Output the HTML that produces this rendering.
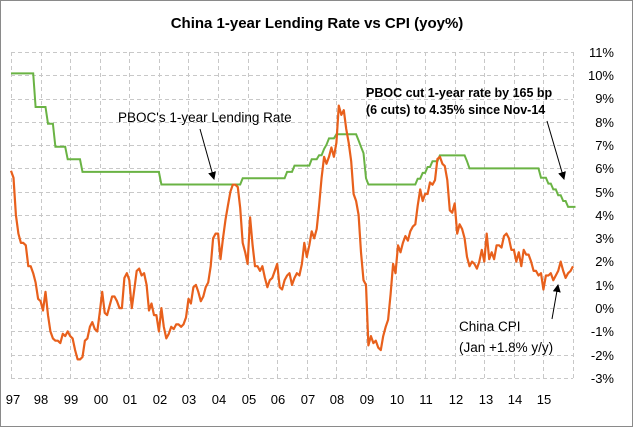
<!DOCTYPE html>
<html><head><meta charset="utf-8"><style>
body{margin:0;background:#fff}
#c{position:relative;width:633px;height:427px;box-sizing:border-box;border:1px solid #8a8a8a;font-family:"Liberation Sans",sans-serif;overflow:hidden}
svg{position:absolute;left:0;top:0}
</style></head><body><div id="c">
<svg width="633" height="427" xmlns="http://www.w3.org/2000/svg" font-family="Liberation Sans, sans-serif">
<text x="316" y="27" text-anchor="middle" font-size="15" font-weight="bold" fill="#000">China 1-year Lending Rate vs CPI (yoy%)</text>
<g id="grid" stroke="#c8c8c8" stroke-width="1" stroke-dasharray="4,3" fill="none"></g>
<g font-size="13" fill="#000" text-anchor="end">
<text x="613" y="56">11%</text><text x="613" y="79">10%</text><text x="613" y="102">9%</text><text x="613" y="126">8%</text><text x="613" y="149">7%</text><text x="613" y="172">6%</text><text x="613" y="196">5%</text><text x="613" y="219">4%</text><text x="613" y="242">3%</text><text x="613" y="265">2%</text><text x="613" y="289">1%</text><text x="613" y="312">0%</text><text x="613" y="335">-1%</text><text x="613" y="359">-2%</text><text x="613" y="382">-3%</text>
</g>
<g font-size="13" fill="#000" text-anchor="middle">
<text x="12" y="403">97</text><text x="40" y="403">98</text><text x="70" y="403">99</text><text x="100" y="403">00</text><text x="129" y="403">01</text><text x="159" y="403">02</text><text x="188" y="403">03</text><text x="218" y="403">04</text><text x="248" y="403">05</text><text x="277" y="403">06</text><text x="307" y="403">07</text><text x="336" y="403">08</text><text x="366" y="403">09</text><text x="396" y="403">10</text><text x="425" y="403">11</text><text x="455" y="403">12</text><text x="485" y="403">13</text><text x="514" y="403">14</text><text x="543" y="403">15</text>
</g>
<polyline id="g" fill="none" stroke="#6ab344" stroke-width="2"/>
<polyline id="o" fill="none" stroke="#e8601c" stroke-width="2.2" stroke-linejoin="round"/>
<text x="117" y="121" font-size="13.5" fill="#000">PBOC's 1-year Lending Rate</text>
<text x="365" y="96" font-size="12.5" font-weight="bold" fill="#000">PBOC cut 1-year rate by 165 bp</text>
<text x="365" y="113" font-size="12.5" font-weight="bold" fill="#000">(6 cuts) to 4.35%  since Nov-14</text>
<text x="458" y="330" font-size="13.5" fill="#000">China CPI</text>
<text x="458" y="351" font-size="13.5" fill="#000">(Jan +1.8% y/y)</text>
<defs><marker id="a" markerWidth="8" markerHeight="8" refX="7" refY="4" orient="auto" markerUnits="userSpaceOnUse"><path d="M0,0 L8,4 L0,8 z" fill="#000"/></marker></defs>
<line x1="199" y1="128" x2="213" y2="178" stroke="#000" stroke-width="1" marker-end="url(#a)"/>
<line x1="546" y1="120" x2="563" y2="178" stroke="#000" stroke-width="1" marker-end="url(#a)"/>
<line x1="551" y1="318" x2="557" y2="284" stroke="#000" stroke-width="1" marker-end="url(#a)"/>
</svg></div>
<script>
var ns="http://www.w3.org/2000/svg",g=document.getElementById("grid");
function Y(v){return 51+(11-v)*23.286}
function X(i){return 10+i/12*29.58}
for(var v=-3;v<=11;v++){var l=document.createElementNS(ns,"line");l.setAttribute("x1",10);l.setAttribute("x2",572);l.setAttribute("y1",Math.round(Y(v))+.5);l.setAttribute("y2",Math.round(Y(v))+.5);g.appendChild(l);}
for(var k=0;k<=19;k++){var x=Math.round(10+k*29.58)+.5;var l=document.createElementNS(ns,"line");l.setAttribute("x1",x);l.setAttribute("x2",x);l.setAttribute("y1",51);l.setAttribute("y2",377);g.appendChild(l);}
var cpi=[5.9,5.6,4.0,3.2,2.8,2.8,2.7,1.8,1.8,1.5,1.1,0.4,
0.3,-0.1,0.7,-0.3,-1.0,-1.3,-1.4,-1.4,-1.5,-1.1,-1.2,-1.0,
-1.2,-1.3,-1.8,-2.2,-2.2,-2.1,-1.4,-1.3,-0.8,-0.6,-0.9,-1.0,
-0.2,0.7,-0.2,-0.3,0.1,0.5,0.5,0.3,0.0,0.0,1.3,1.5,
1.2,0.0,0.8,1.6,1.7,1.4,1.5,1.0,-0.1,0.2,-0.3,-0.3,
-1.0,0.0,-0.8,-1.3,-1.1,-0.8,-0.9,-0.7,-0.7,-0.8,-0.7,-0.4,
0.4,0.2,0.9,1.0,0.7,0.3,0.5,0.9,1.1,1.8,3.0,3.2,
3.2,2.1,3.0,3.8,4.4,5.0,5.3,5.3,5.2,4.3,2.8,2.4,
1.9,3.9,2.7,1.8,1.8,1.6,1.8,1.3,0.9,1.2,1.3,1.6,
1.9,0.9,0.8,1.2,1.4,1.5,1.0,1.3,1.5,1.4,1.9,2.8,
2.2,2.7,3.3,3.0,3.4,4.4,5.6,6.5,6.2,6.5,6.9,6.5,
7.1,8.7,8.3,8.5,7.7,7.1,6.3,4.9,4.6,4.0,2.4,1.2,
1.0,-1.6,-1.2,-1.5,-1.4,-1.7,-1.8,-1.2,-0.8,-0.5,0.6,1.9,
1.5,2.7,2.4,2.8,3.1,2.9,3.3,3.5,3.6,4.4,5.1,4.6,
4.9,4.9,5.4,5.3,5.5,6.4,6.5,6.2,6.1,5.5,4.2,4.1,
4.5,3.2,3.6,3.4,3.0,2.2,1.8,2.0,1.9,1.7,2.0,2.5,
2.0,3.2,2.1,2.4,2.1,2.7,2.7,2.6,3.1,3.2,3.0,2.5,
2.5,2.0,2.4,1.8,2.5,2.3,2.3,2.0,1.6,1.6,1.4,1.5,
0.8,1.4,1.4,1.5,1.2,1.4,1.6,2.0,1.6,1.3,1.5,1.6,1.8];
var p=cpi.map(function(v,i){return X(i).toFixed(1)+","+Y(v).toFixed(1)}).join(" ");
document.getElementById("o").setAttribute("points",p);
var ch=[[0,10.08],[10,8.64],[15,7.92],[18,6.93],[23,6.39],[29,5.85],[61,5.31],[94,5.58],[112,5.85],[115,6.12],[122,6.39],[125,6.57],[127,6.84],[128,7.02],[129,7.29],[132,7.47],[141,7.20],[142,6.93],[143,6.66],[144,5.58],[145,5.31],[165,5.56],[167,5.81],[169,6.06],[171,6.31],[174,6.56],[185,6.31],[186,6.00],[215,5.60],[218,5.35],[220,5.10],[222,4.85],[224,4.60],[226,4.35]];
var pts=[],cur=ch[0][1],j=0;
for(var i=0;i<=229;i++){while(j<ch.length&&ch[j][0]<=i){cur=ch[j][1];j++;}pts.push(X(i).toFixed(1)+","+Y(cur).toFixed(1));}
document.getElementById("g").setAttribute("points",pts.join(" "));
</script></body></html>
